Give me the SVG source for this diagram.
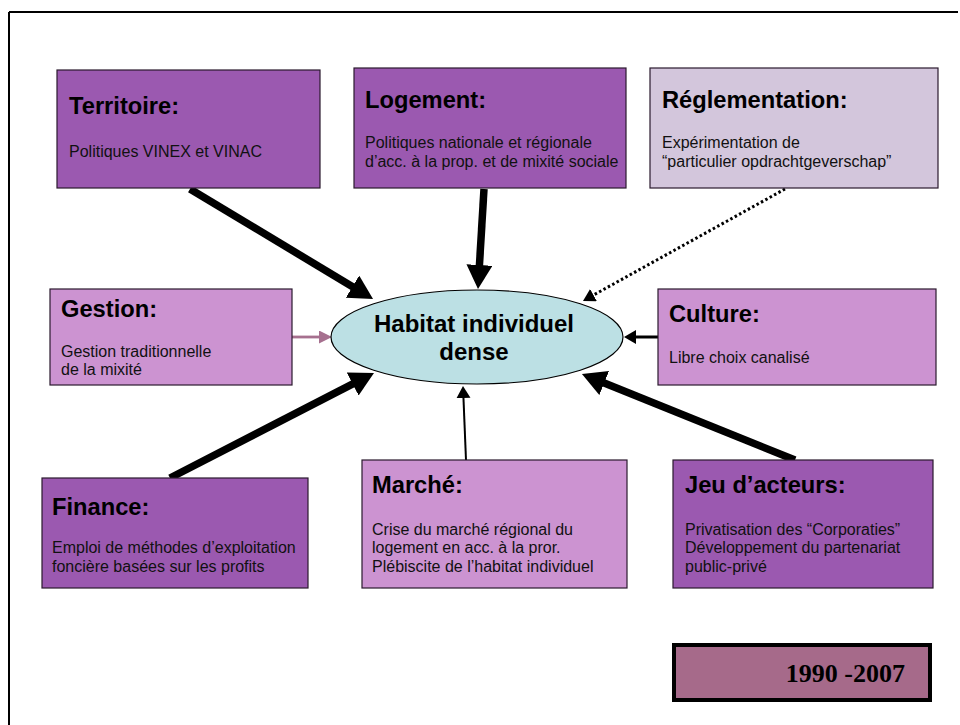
<svg xmlns="http://www.w3.org/2000/svg" width="960" height="725" viewBox="0 0 960 725">
  <style>
    .box { stroke: #2a1a2e; stroke-width: 1.2; }
    .dark { fill: #9b59b0; }
    .light { fill: #cc93d1; }
    .pale { fill: #d3c6dc; }
    .title { font-family: "Liberation Sans", Arial, sans-serif; font-weight: bold; font-size: 23.7px; fill: #000; }
    .body { font-family: "Liberation Sans", Arial, sans-serif; font-size: 16px; fill: #111; }
    .core { font-family: "Liberation Sans", Arial, sans-serif; font-weight: bold; font-size: 24px; fill: #000; }
    .thick { stroke: #000; stroke-width: 7.5; fill: none; }
  </style>
  <defs>
    <marker id="headBig" markerUnits="userSpaceOnUse" markerWidth="30" markerHeight="30" refX="4" refY="13" orient="auto">
      <path d="M0,0 L24,13 L0,26 z" fill="#000"/>
    </marker>
    <marker id="headSmall" markerUnits="userSpaceOnUse" markerWidth="16" markerHeight="16" refX="4" refY="7" orient="auto">
      <path d="M0,0 L12,7 L0,14 z" fill="#000"/>
    </marker>
    <marker id="headMauve" markerUnits="userSpaceOnUse" markerWidth="16" markerHeight="16" refX="4" refY="6.5" orient="auto">
      <path d="M0,0 L13,6.5 L0,13 z" fill="#a6708f"/>
    </marker>
  </defs>

  <rect width="960" height="725" fill="#fff"/>
  <!-- page frame (only top and left edges fall inside the view) -->
  <path d="M9,12 H958 M9,12 V735" fill="none" stroke="#000" stroke-width="2"/>

  <g id="connectors">
    <line class="thick" x1="190" y1="189" x2="355.9" y2="288.7" marker-end="url(#headBig)"/>
    <line class="thick" x1="484" y1="189" x2="479.2" y2="269" marker-end="url(#headBig)"/>
    <line x1="785" y1="189" x2="590" y2="297" stroke="#000" stroke-width="3" stroke-dasharray="2.5 2.5" marker-end="url(#headSmall)"/>
    <line x1="292" y1="337" x2="323" y2="337" stroke="#a6708f" stroke-width="2.8" marker-end="url(#headMauve)"/>
    <line x1="658" y1="337" x2="632" y2="337" stroke="#000" stroke-width="3" marker-end="url(#headSmall)"/>
    <line class="thick" x1="170" y1="478" x2="356.2" y2="382.2" marker-end="url(#headBig)"/>
    <line x1="466" y1="460" x2="463.3" y2="394" stroke="#000" stroke-width="2" marker-end="url(#headSmall)"/>
    <line class="thick" x1="795" y1="460" x2="600.5" y2="381.5" marker-end="url(#headBig)"/>
  </g>

  <g id="territoire">
    <rect class="box dark" x="57" y="70" width="263" height="118"/>
    <text class="title" x="69" y="114">Territoire:</text>
    <text class="body" x="69" y="157">Politiques VINEX et VINAC</text>
  </g>

  <g id="logement">
    <rect class="box dark" x="354" y="68" width="272" height="120"/>
    <text class="title" x="365" y="108">Logement:</text>
    <text class="body" x="365" y="148">Politiques nationale et régionale</text>
    <text class="body" x="365" y="167">d’acc. à la prop. et de mixité sociale</text>
  </g>

  <g id="reglementation">
    <rect class="box pale" x="650" y="68" width="288" height="120"/>
    <text class="title" x="662" y="108">Réglementation:</text>
    <text class="body" x="662" y="148">Expérimentation de</text>
    <text class="body" x="662" y="167">“particulier opdrachtgeverschap”</text>
  </g>

  <g id="gestion">
    <rect class="box light" x="50" y="289" width="242" height="96"/>
    <text class="title" x="61" y="317">Gestion:</text>
    <text class="body" x="61" y="357">Gestion traditionnelle</text>
    <text class="body" x="61" y="375">de la mixité</text>
  </g>

  <g id="habitat">
    <ellipse cx="477" cy="337" rx="146" ry="47" fill="#bce0e4" stroke="#000" stroke-width="1.2"/>
    <text class="core" x="474" y="332" text-anchor="middle">Habitat individuel</text>
    <text class="core" x="474" y="360" text-anchor="middle">dense</text>
  </g>

  <g id="culture">
    <rect class="box light" x="658" y="289" width="278" height="96"/>
    <text class="title" x="669" y="322">Culture:</text>
    <text class="body" x="669" y="363">Libre choix canalisé</text>
  </g>

  <g id="finance">
    <rect class="box dark" x="42" y="478" width="266" height="110"/>
    <text class="title" x="52" y="515">Finance:</text>
    <text class="body" x="52" y="553">Emploi de méthodes d’exploitation</text>
    <text class="body" x="52" y="572">foncière basées sur les profits</text>
  </g>

  <g id="marche">
    <rect class="box light" x="362" y="460" width="265" height="128"/>
    <text class="title" x="372" y="493">Marché:</text>
    <text class="body" x="372" y="535">Crise du marché régional du</text>
    <text class="body" x="372" y="553">logement en acc. à la pror.</text>
    <text class="body" x="372" y="572">Plébiscite de l’habitat individuel</text>
  </g>

  <g id="jeu-acteurs">
    <rect class="box dark" x="673" y="460" width="260" height="128"/>
    <text class="title" x="685" y="493">Jeu d’acteurs:</text>
    <text class="body" x="685" y="535">Privatisation des “Corporaties”</text>
    <text class="body" x="685" y="553">Développement du partenariat</text>
    <text class="body" x="685" y="572">public-privé</text>
  </g>

  <g id="periode">
    <rect x="674" y="645" width="256" height="55" fill="#a66a8a" stroke="#000" stroke-width="4"/>
    <text x="905" y="682" text-anchor="end" font-family="'Liberation Serif', 'Times New Roman', serif" font-weight="bold" font-size="26px" fill="#000">1990 -2007</text>
  </g>
</svg>
